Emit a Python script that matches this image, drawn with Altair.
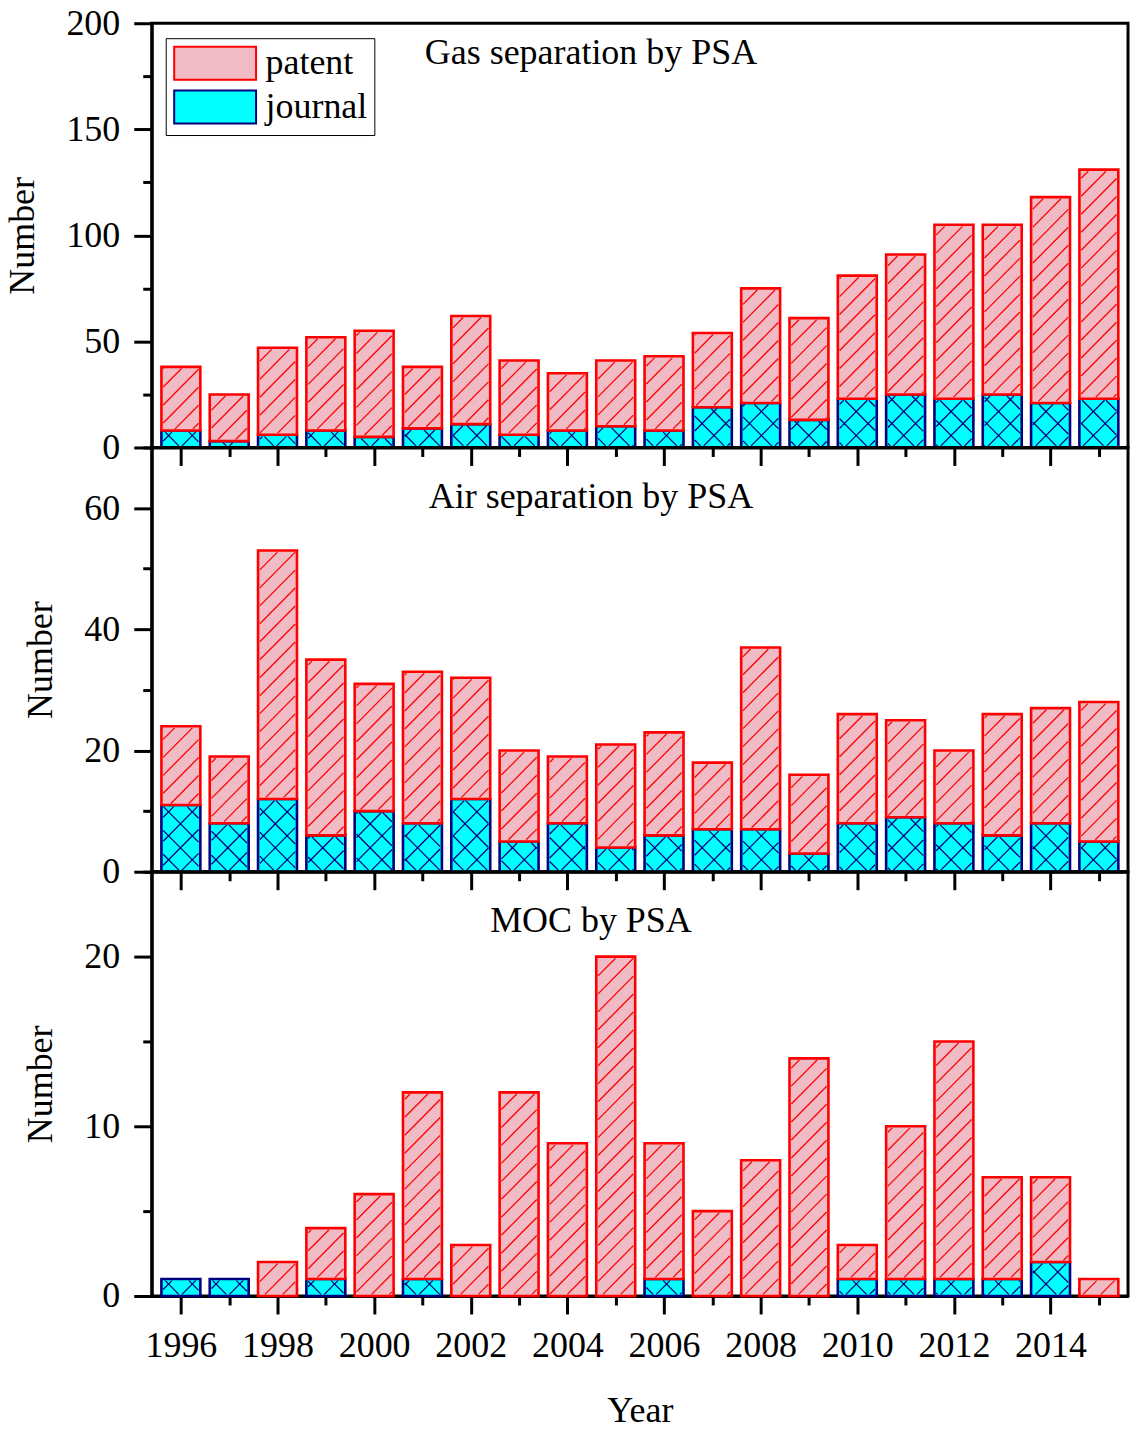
import math

import altair as alt
import pandas as pd

# Publication counts per year: journal articles and patents
years = list(range(1996, 2016))

gas_patent = [30, 22, 41, 44, 50, 29, 51, 35, 27, 31, 35, 35, 54, 48, 58, 66, 82, 80, 97, 108]
gas_journal = [8, 3, 6, 8, 5, 9, 11, 6, 8, 10, 8, 19, 21, 13, 23, 25, 23, 25, 21, 23]

air_patent = [13, 11, 41, 29, 21, 25, 20, 15, 11, 17, 17, 11, 30, 13, 18, 16, 12, 20, 19, 23]
air_journal = [11, 8, 12, 6, 10, 8, 12, 5, 8, 4, 6, 7, 7, 3, 8, 9, 8, 6, 8, 5]

moc_patent = [0, 0, 2, 3, 6, 11, 3, 12, 9, 20, 8, 5, 8, 14, 2, 9, 14, 6, 5, 1]
moc_journal = [1, 1, 0, 1, 0, 1, 0, 0, 0, 0, 1, 0, 0, 0, 1, 1, 1, 1, 2, 0]

panel_titles = ["Gas separation by PSA", "Air separation by PSA", "MOC by PSA"]
kinds = ["patent", "journal"]

FONT = "Liberation Serif"
PLOT_W, PLOT_H = 978, 425
X_LO, X_HI = 1995.5, 2015.5
BAR_PX = 39
PX_PER_YEAR = PLOT_W / (X_HI - X_LO)

PINK, RED = "#F1BBC5", "#FF0000"
CYAN, NAVY = "#00FFFF", "#000080"


def stacked_rects(patent, journal):
    """Journal on the bottom, patents stacked above it."""
    rows = []
    for kind in ["journal", "patent"]:
        for yr, p, j in zip(years, patent, journal):
            lo, hi = (0, j) if kind == "journal" else (j, j + p)
            if hi > lo:
                rows.append({"year": yr, "kind": kind, "y0": lo, "y1": hi})
    return pd.DataFrame(rows)


def hatch_lines(rects, kind, ymax, spacing, directions, inset=1.6):
    """45-degree hatch segments clipped to each bar of the given kind."""
    ky = PLOT_H / ymax
    out = []
    for r in rects[rects["kind"] == kind].itertuples():
        a = (r.year - X_LO) * PX_PER_YEAR - BAR_PX / 2 + inset
        b = (r.year - X_LO) * PX_PER_YEAR + BAR_PX / 2 - inset
        lo, hi = r.y0 * ky + inset, r.y1 * ky - inset
        if hi <= lo:
            continue
        for d in directions:
            cmin, cmax = (lo - b, hi - a) if d == 1 else (lo + a, hi + b)
            for k in range(math.ceil(cmin / spacing), math.floor(cmax / spacing) + 1):
                c = k * spacing
                if d == 1:
                    p0, p1 = max(a, lo - c), min(b, hi - c)
                else:
                    p0, p1 = max(a, c - hi), min(b, c - lo)
                if p1 - p0 > 0.5:
                    out.append({
                        "x": p0 / PX_PER_YEAR + X_LO,
                        "y": (d * p0 + c) / ky,
                        "x2": p1 / PX_PER_YEAR + X_LO,
                        "y2": (d * p1 + c) / ky,
                    })
    return pd.DataFrame(out, columns=["x", "y", "x2", "y2"])


panel_specs = [
    dict(patent=gas_patent, journal=gas_journal, ymax=200, step=25, label_step=50, title_y=41),
    dict(patent=air_patent, journal=air_journal, ymax=70, step=10, label_step=20, title_y=61),
    dict(patent=moc_patent, journal=moc_journal, ymax=25, step=5, label_step=10, title_y=60),
]


def make_panel(i, spec):
    rects = stacked_rects(spec["patent"], spec["journal"])
    ymax = spec["ymax"]
    bottom = i == len(panel_specs) - 1
    first = i == 0

    x_scale = alt.Scale(domain=[X_LO, X_HI], nice=False, zero=False)
    y_scale = alt.Scale(domain=[0, ymax], nice=False)

    x_axis = alt.Axis(
        values=years,
        format="d",
        labels=bottom,
        labelExpr="datum.value % 2 === 0 ? datum.label : ''",
        labelOverlap=False,
        labelFlush=False,
        labelPadding=15,
        tickSize={"condition": {"test": "datum.value % 2 === 0", "value": 18}, "value": 9},
        title="Year" if bottom else None,
        titlePadding=30,
    )
    y_axis = alt.Axis(
        values=list(range(0, ymax + 1, spec["step"])),
        labelExpr=f"datum.value % {spec['label_step']} === 0 ? datum.label : ''",
        labelOverlap=False,
        labelFlush=False,
        labelPadding=14,
        tickSize={"condition": {"test": f"datum.value % {spec['label_step']} === 0", "value": 18}, "value": 9},
        title="Number",
        titlePadding=24,
    )

    legend = None
    if first:
        legend = alt.Legend(
            title=None,
            orient="none",
            legendX=14,
            legendY=15,
            symbolType="M-1,-1H3.97V1H-1Z",
            symbolSize=1089,
            symbolStrokeWidth=2,
            labelFont=FONT,
            labelFontSize=36,
            labelColor="black",
            labelOffset=57,
            rowPadding=2,
            padding=7,
            strokeColor="black",
            fillColor="white",
        )

    bars = alt.Chart(rects).mark_bar(size=BAR_PX, strokeWidth=2.6, opacity=1).encode(
        x=alt.X("year:Q", scale=x_scale, axis=x_axis),
        y=alt.Y("y0:Q", scale=y_scale, axis=y_axis),
        y2="y1:Q",
        fill=alt.Fill("kind:N", scale=alt.Scale(domain=kinds, range=[PINK, CYAN]), legend=legend),
        stroke=alt.Stroke("kind:N", scale=alt.Scale(domain=kinds, range=[RED, NAVY]), legend=legend),
    )

    layers = [bars]
    for kind, color, spacing, dirs in [
        ("patent", RED, 18, [1]),
        ("journal", NAVY, 24, [1, -1]),
    ]:
        segs = hatch_lines(rects, kind, ymax, spacing, dirs)
        if len(segs):
            layers.append(
                alt.Chart(segs).mark_rule(color=color, strokeWidth=1.3).encode(
                    x=alt.X("x:Q", scale=x_scale),
                    y=alt.Y("y:Q", scale=y_scale),
                    x2="x2:Q",
                    y2="y2:Q",
                )
            )

    label = alt.Chart(pd.DataFrame({"label": [panel_titles[i]]})).mark_text(
        font=FONT, fontSize=36, align="center", baseline="alphabetic", color="black"
    ).encode(text="label:N", x=alt.value(440), y=alt.value(spec["title_y"]))
    layers.append(label)

    return alt.layer(*layers).properties(width=PLOT_W, height=PLOT_H)


panels = [make_panel(i, s) for i, s in enumerate(panel_specs)]

chart = (
    alt.vconcat(*panels, spacing=0, bounds="flush")
    .resolve_scale(fill="independent", stroke="independent")
    .properties(padding={"left": 3, "top": 2, "right": 3, "bottom": 5}, background="white")
    .configure_view(stroke="black", strokeWidth=3)
    .configure_axis(
        domainColor="black",
        domainWidth=3,
        tickColor="black",
        tickWidth=3,
        grid=False,
        labelFont=FONT,
        labelFontSize=36,
        labelColor="black",
        titleFont=FONT,
        titleFontSize=36,
        titleFontWeight="normal",
        titleColor="black",
    )
)

chart.save("out.html", embed_options={"renderer": "svg", "actions": False})
